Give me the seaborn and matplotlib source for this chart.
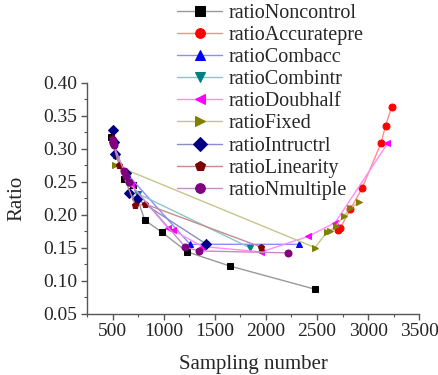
import matplotlib
matplotlib.use('Agg')
import matplotlib.pyplot as plt
import matplotlib.colors as mcolors
from matplotlib.ticker import MultipleLocator
import seaborn as sns

# values
noncontrol_x = [480, 612, 700, 812, 984, 1230, 1648, 2477]
noncontrol_y = [0.318, 0.254, 0.245, 0.192, 0.173, 0.1435, 0.122, 0.087]

accuratepre_x = [2705, 2725, 2826, 2941, 3125, 3171, 3230]
accuratepre_y = [0.176, 0.179, 0.208, 0.240, 0.308, 0.335, 0.363]

combacc_x = [510, 530, 640, 1257, 2319]
combacc_y = [0.310, 0.290, 0.262, 0.155, 0.155]

combintr_x = [536, 745, 1840]
combintr_y = [0.289, 0.232, 0.150]

doubhalf_x = [505, 620, 680, 1040, 1095, 1378, 1954, 2414, 2678, 3190]
doubhalf_y = [0.310, 0.260, 0.245, 0.180, 0.176, 0.1516, 0.1435, 0.167, 0.188, 0.308]

fixed_x = [525, 2480, 2595, 2628, 2688, 2760, 2826, 2914]
fixed_y = [0.275, 0.150, 0.173, 0.1755, 0.183, 0.198, 0.2095, 0.2187]

intructrl_x = [505, 514, 522, 634, 662, 733, 1410]
intructrl_y = [0.328, 0.310, 0.292, 0.263, 0.233, 0.224, 0.156]

linearity_x = [490, 563, 723, 820, 1950]
linearity_y = [0.316, 0.275, 0.214, 0.216, 0.151]

nmultiple_x = [500, 505, 510, 612, 632, 658, 1210, 1342, 2212]
nmultiple_y = [0.313, 0.308, 0.305, 0.266, 0.259, 0.249, 0.151, 0.145, 0.142]

series = [
    ('ratioNoncontrol', noncontrol_x, noncontrol_y, '#000000', 's'),
    ('ratioAccuratepre', accuratepre_x, accuratepre_y, '#ff0000', 'o'),
    ('ratioCombacc', combacc_x, combacc_y, '#0000ff', '^'),
    ('ratioCombintr', combintr_x, combintr_y, '#008080', 'v'),
    ('ratioDoubhalf', doubhalf_x, doubhalf_y, '#ff00ff', '<'),
    ('ratioFixed', fixed_x, fixed_y, '#808000', '>'),
    ('ratioIntructrl', intructrl_x, intructrl_y, '#000080', 'D'),
    ('ratioLinearity', linearity_x, linearity_y, '#800000', 'p'),
    ('ratioNmultiple', nmultiple_x, nmultiple_y, '#800080', 'o'),
]

sns.set_style('ticks')
plt.rcParams['font.family'] = ['Liberation Serif', 'DejaVu Serif']

fig = plt.figure(figsize=(4.38, 3.75), dpi=100)
ax = fig.add_axes([0.199, 0.164, 0.758, 0.615])

for name, xs, ys, col, mk in series:
    sns.lineplot(x=xs, y=ys, ax=ax, sort=False, color=col, marker=mk,
                 markersize=5, markeredgecolor=col, markerfacecolor=col,
                 linewidth=1, label=name, legend=False)
    line = ax.get_lines()[-1]
    # lines are drawn paler than the markers
    rgb = mcolors.to_rgb(col)
    pale = tuple(0.55 + 0.45 * c if col != '#000000' else 0.6 for c in rgb)
    line.set_color(pale)
    line.set_markerfacecolor(col)
    line.set_markeredgecolor(col)

ax.set_xlim(250, 3500)
ax.set_ylim(0.05, 0.40)
ax.xaxis.set_minor_locator(MultipleLocator(250))
ax.yaxis.set_major_locator(MultipleLocator(0.05))
ax.yaxis.set_minor_locator(MultipleLocator(0.025))
ax.set_xticks([500, 1000, 1500, 2000, 2500, 3000, 3500])
ax.yaxis.set_major_formatter(matplotlib.ticker.FormatStrFormatter('%.2f'))

sns.despine(ax=ax)
for s in ['left', 'bottom']:
    ax.spines[s].set_color('#555555')
    ax.spines[s].set_linewidth(1)
ax.tick_params(which='major', direction='out', length=4, width=1,
               color='#555555', labelsize=14, pad=3)
ax.tick_params(which='minor', direction='out', length=2.5, width=0.8,
               color='#555555')

ax.set_xlabel('Sampling number', fontsize=15, labelpad=11)
ax.set_ylabel('Ratio', fontsize=15, labelpad=12)

handles = ax.get_lines()
labels = [s[0] for s in series]
fig.legend(handles, labels, loc='upper left', bbox_to_anchor=(0.405, 0.99),
           frameon=False, fontsize=14.5, labelspacing=0.15, borderpad=0,
           handlelength=2.2, handletextpad=0.35, borderaxespad=0,
           markerscale=1.4)

fig.savefig('out.png', dpi=100, facecolor='white')
